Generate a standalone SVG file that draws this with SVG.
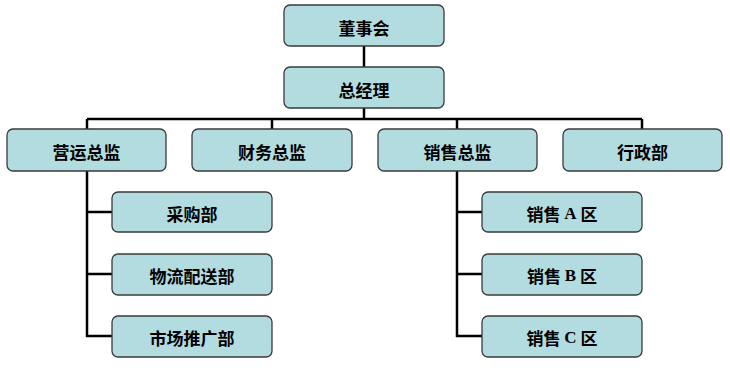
<svg xmlns="http://www.w3.org/2000/svg" width="730" height="376" viewBox="0 0 730 376">
<style>
.box{fill:#b3dce1;stroke:#3a3a3a;stroke-width:1.3}
.t{font-family:"Noto Sans CJK SC","Noto Sans CJK TC",sans-serif;font-weight:bold;font-size:17px;fill:#000;text-anchor:middle;dominant-baseline:central}
.l{font-family:"Liberation Serif",serif;font-weight:bold}
.c{fill:none;stroke:#000;stroke-width:2.5}
</style>
<rect width="730" height="376" fill="#fff"/>
<g id="connectors">
<path class="c" d="M364 46V67M364 108V119M87 119H642M87 119V129M272 119V129M457 119V129M642 119V129"/>
<path class="c" d="M87 171V337M86 212H112M86 274H112M86 336H112"/>
<path class="c" d="M457 171V337M456 212H482M456 274H482M456 336H482"/>
</g>
<g id="n1"><rect class="box" x="284" y="5" width="160" height="41" rx="6"/><text class="t" x="364" y="27">董事会</text></g>
<g id="n2"><rect class="box" x="284" y="67" width="160" height="41" rx="6"/><text class="t" x="364" y="89">总经理</text></g>
<g id="n3"><rect class="box" x="7" y="129" width="159" height="42" rx="6"/><text class="t" x="86.5" y="151">营运总监</text></g>
<g id="n4"><rect class="box" x="192" y="129" width="160" height="42" rx="6"/><text class="t" x="272" y="151">财务总监</text></g>
<g id="n5"><rect class="box" x="378" y="129" width="159" height="42" rx="6"/><text class="t" x="457.5" y="151">销售总监</text></g>
<g id="n6"><rect class="box" x="563" y="129" width="159" height="42" rx="6"/><text class="t" x="642.5" y="151">行政部</text></g>
<g id="n7"><rect class="box" x="112" y="192" width="160" height="40" rx="6"/><text class="t" x="192" y="213">采购部</text></g>
<g id="n8"><rect class="box" x="112" y="254" width="160" height="41" rx="6"/><text class="t" x="192" y="275">物流配送部</text></g>
<g id="n9"><rect class="box" x="112" y="316" width="160" height="41" rx="6"/><text class="t" x="192" y="337">市场推广部</text></g>
<g id="n10"><rect class="box" x="482" y="192" width="160" height="40" rx="6"/><text class="t" x="562" y="213">销售 <tspan class="l">A</tspan> 区</text></g>
<g id="n11"><rect class="box" x="482" y="254" width="160" height="41" rx="6"/><text class="t" x="562" y="275">销售 <tspan class="l">B</tspan> 区</text></g>
<g id="n12"><rect class="box" x="482" y="316" width="160" height="41" rx="6"/><text class="t" x="562" y="337">销售 <tspan class="l">C</tspan> 区</text></g>
</svg>
